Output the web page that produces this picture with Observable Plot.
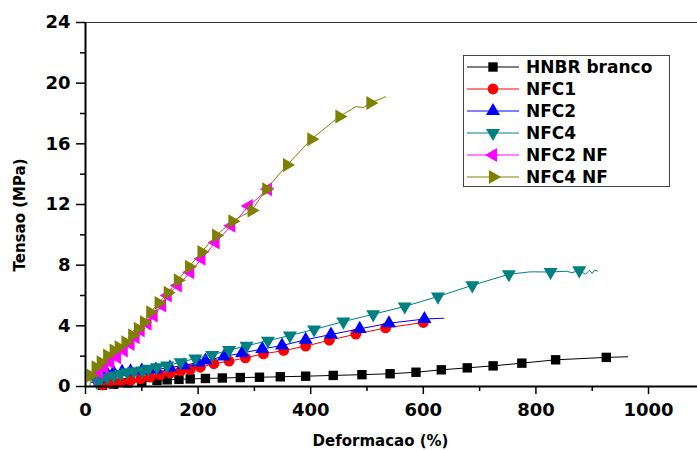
<!DOCTYPE html>
<html><head><meta charset="utf-8">
<script src="https://cdn.jsdelivr.net/npm/d3@7"></script>
<script src="https://cdn.jsdelivr.net/npm/@observablehq/plot@0.6"></script>
<style>body{margin:0;background:#fff} #chart{width:697px;height:450px}</style>
</head><body><div id="chart"></div>
<script>
// ---- data ----
const seriesNames = ["HNBR branco", "NFC1", "NFC2", "NFC4", "NFC2 NF", "NFC4 NF"];

const hnbrX = [15, 30, 50, 75, 100, 127, 145, 166, 186, 213, 243, 275, 309, 346, 391, 440, 491, 541, 587, 632, 678, 724, 775, 835, 925, 963];
const hnbrY = [0, 0.08, 0.15, 0.24, 0.32, 0.40, 0.44, 0.47, 0.50, 0.53, 0.56, 0.59, 0.61, 0.64, 0.68, 0.73, 0.78, 0.84, 0.94, 1.10, 1.23, 1.36, 1.54, 1.76, 1.92, 1.96];
const hnbrM = [0, 1, 1, 1, 1, 1, 1, 1, 1, 1, 1, 1, 1, 1, 1, 1, 1, 1, 1, 1, 1, 1, 1, 1, 1, 0];

const nfc1X = [15, 30, 45, 62, 80, 98, 115, 133, 151, 169, 186, 204, 228, 255, 284, 316, 352, 391, 433, 480, 533, 600, 612];
const nfc1Y = [0, 0.1, 0.2, 0.3, 0.4, 0.5, 0.62, 0.77, 0.9, 1.02, 1.12, 1.27, 1.5, 1.67, 1.89, 2.15, 2.37, 2.66, 3.05, 3.45, 3.86, 4.22, 4.3];
const nfc1M = [0, 1, 1, 1, 1, 1, 1, 1, 1, 1, 1, 1, 1, 1, 1, 1, 1, 1, 1, 1, 1, 1, 0];

const nfc2X = [15, 22, 30, 38, 50, 65, 80, 100, 125, 150, 175, 200, 213, 246, 278, 314, 349, 391, 436, 487, 539, 602, 636];
const nfc2Y = [0, 0.5, 0.75, 0.88, 0.92, 0.96, 1.0, 1.05, 1.12, 1.25, 1.4, 1.58, 1.71, 1.98, 2.2, 2.48, 2.7, 3.08, 3.43, 3.80, 4.17, 4.45, 4.5];
const nfc2M = [0, 1, 1, 1, 1, 1, 1, 1, 1, 1, 1, 1, 1, 1, 1, 1, 1, 1, 1, 1, 1, 1, 0];

const nfc4X = [15, 20, 27, 38.5, 50, 62, 74, 86, 101, 112, 127, 145, 169, 195, 225, 255, 286, 324, 363, 406, 458, 511, 567, 626, 687, 752, 790, 826, 855, 864, 877, 888, 895, 900, 904, 909];
const nfc4Y = [0, 0.3, 0.51, 0.61, 0.72, 0.84, 0.94, 1.01, 1.05, 1.16, 1.27, 1.38, 1.6, 1.85, 2.08, 2.4, 2.68, 3.02, 3.36, 3.76, 4.28, 4.76, 5.28, 5.93, 6.67, 7.4, 7.56, 7.55, 7.6, 7.5, 7.66, 7.4, 7.66, 7.45, 7.66, 7.62];
const nfc4M = [0, 1, 1, 1, 1, 1, 1, 1, 1, 1, 1, 1, 1, 1, 1, 1, 1, 1, 1, 1, 1, 1, 1, 1, 1, 1, 0, 1, 0, 0, 1, 0, 0, 0, 0, 0];

const nfc2nfX = [14, 18, 24, 33, 44, 56, 68, 80, 89, 98, 110, 121, 136, 146, 164, 186, 206, 231, 259, 290, 324, 334];
const nfc2nfY = [0, 0.4, 0.94, 1.27, 1.6, 1.93, 2.37, 2.81, 3.25, 3.69, 4.13, 4.68, 5.34, 6.0, 6.66, 7.53, 8.42, 9.5, 10.6, 11.9, 13.0, 13.1];
const nfc2nfM = [0, 0, 1, 1, 1, 1, 1, 1, 1, 1, 1, 1, 1, 1, 1, 1, 1, 1, 1, 1, 1, 0];

const nfc4nfX = [8, 9, 18, 27, 38.5, 50, 59, 71, 83, 93, 104, 115, 130, 146, 164, 184, 206, 232, 261, 295, 321, 358, 401, 451, 480, 494, 506, 533];
const nfc4nfY = [0, 0.72, 1.27, 1.6, 2.04, 2.37, 2.59, 2.92, 3.36, 3.8, 4.24, 4.9, 5.5, 6.18, 7.0, 7.9, 8.87, 9.95, 10.9, 11.6, 13.0, 14.6, 16.3, 17.8, 18.45, 18.4, 18.7, 19.1];
const nfc4nfM = [0, 1, 1, 1, 1, 1, 1, 1, 1, 1, 1, 1, 1, 1, 1, 1, 1, 1, 1, 1, 1, 1, 1, 1, 0, 0, 1, 0];

const xMajorTicks = [0, 200, 400, 600, 800, 1000];
const xMinorTicks = [100, 300, 500, 700, 900];
const yMajorTicks = [0, 4, 8, 12, 16, 20, 24];
const yMinorTicks = [2, 6, 10, 14, 18, 22];

// ---- styles ----
const colors = ["#000000", "#ff0000", "#0000ff", "#008080", "#ff00ff", "#808000"];
const symbols = ["square", "circle", "triangle", "triangle", "triangle", "triangle"];
const rotations = [0, 0, 0, 180, -90, 90];
const radii = [5.3, 5.4, 5.2, 5.2, 5.2, 5.2];

const xs = [hnbrX, nfc1X, nfc2X, nfc4X, nfc2nfX, nfc4nfX];
const ys = [hnbrY, nfc1Y, nfc2Y, nfc4Y, nfc2nfY, nfc4nfY];
const ms = [hnbrM, nfc1M, nfc2M, nfc4M, nfc2nfM, nfc4nfM];

const rows = [];
seriesNames.forEach((name, k) => xs[k].forEach((x, i) => rows.push({series: name, k, x, y: ys[k][i], m: ms[k][i]})));

const FONT = "DejaVu Sans, Liberation Sans, Arial, sans-serif";

const marks = [
  Plot.ruleY([24], {stroke: "#333", strokeWidth: 1}),
  Plot.axisX({ticks: xMajorTicks, tickSize: 8, tickPadding: 9, fontSize: 18, fontWeight: "bold", strokeWidth: 1.5, tickFormat: d => String(d), label: null}),
  Plot.axisX({ticks: xMinorTicks, tickSize: 5, tickFormat: () => "", strokeWidth: 1.5, label: null}),
  Plot.axisY({ticks: yMajorTicks, tickSize: 9, tickPadding: 6, fontSize: 18, fontWeight: "bold", strokeWidth: 1.5, tickFormat: d => String(d), label: null}),
  Plot.axisY({ticks: yMinorTicks, tickSize: 5, tickFormat: () => "", strokeWidth: 1.5, label: null})
];
seriesNames.forEach((name, k) => {
  const d = rows.filter(r => r.k === k);
  marks.push(Plot.line(d, {x: "x", y: "y", stroke: colors[k], strokeWidth: 1}));
  marks.push(Plot.dot(d.filter(r => r.m), {x: "x", y: "y", symbol: symbols[k], r: radii[k], fill: colors[k], stroke: "none", rotate: rotations[k]}));
});
marks.push(Plot.ruleX([0], {stroke: "#000", strokeWidth: 2}));
marks.push(Plot.ruleY([0], {stroke: "#000", strokeWidth: 2}));

const svgEl = Plot.plot({
  width: 697, height: 450,
  marginLeft: 85, marginRight: 0, marginTop: 22, marginBottom: 64,
  x: {domain: [0, 1087]},
  y: {domain: [0, 24]},
  style: {fontFamily: FONT, background: "white", color: "#000"},
  marks
});
document.getElementById("chart").appendChild(svgEl);

// ---- titles and legend ----
const svg = d3.select(svgEl);
svg.append("text").attr("x", 380.5).attr("y", 446).attr("text-anchor", "middle")
  .attr("font-family", FONT).attr("font-weight", "bold").attr("font-size", 15).text("Deformacao (%)");
svg.append("text").attr("transform", "translate(25,215) rotate(-90)").attr("text-anchor", "middle")
  .attr("font-family", FONT).attr("font-weight", "bold").attr("font-size", 15).text("Tensao (MPa)");

const lg = svg.append("g");
lg.append("rect").attr("x", 463.5).attr("y", 55.5).attr("width", 206).attr("height", 131)
  .attr("fill", "white").attr("stroke", "#444").attr("stroke-width", 1);
const legendRowY = [67, 89, 111, 133, 155, 177];
const d3sym = {square: d3.symbolSquare, circle: d3.symbolCircle, triangle: d3.symbolTriangle};
seriesNames.forEach((name, k) => {
  const y = legendRowY[k];
  lg.append("line").attr("x1", 467).attr("x2", 519).attr("y1", y).attr("y2", y).attr("stroke", colors[k]).attr("stroke-width", 1);
  lg.append("path").attr("d", d3.symbol(d3sym[symbols[k]], radii[k] * radii[k] * Math.PI)())
    .attr("transform", `translate(493,${y}) rotate(${rotations[k]})`).attr("fill", colors[k]);
  lg.append("text").attr("x", 526).attr("y", y).attr("dy", "0.36em").attr("text-anchor", "start")
    .attr("font-family", FONT).attr("font-weight", "bold").attr("font-size", 17).text(name);
});
</script>
</body></html>
